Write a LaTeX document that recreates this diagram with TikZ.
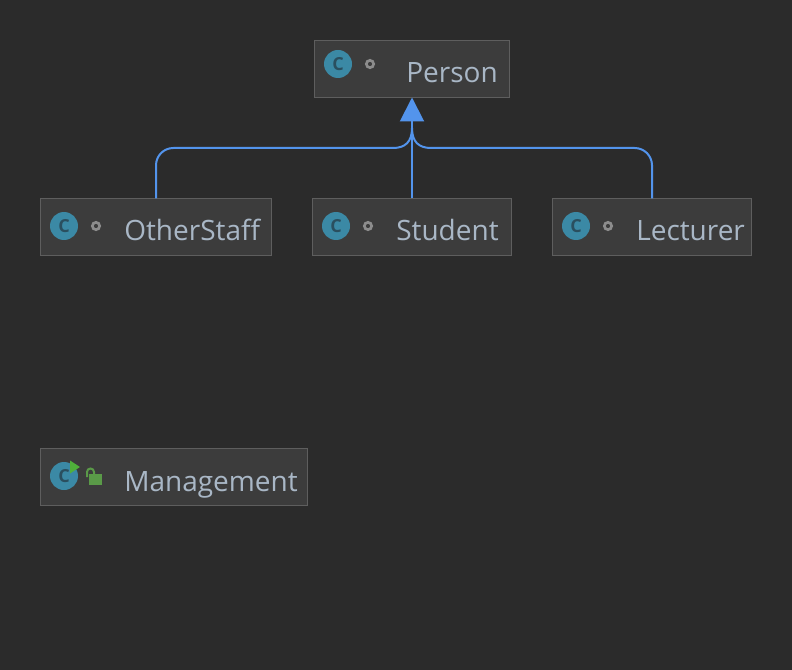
\documentclass[tikz,border=0pt]{standalone}
\usepackage{fontspec}
\setmainfont{Open Sans}
\definecolor{umlback}{HTML}{2B2B2B}
\definecolor{umlbox}{HTML}{3C3C3C}
\definecolor{umledge}{HTML}{5E5E5E}
\definecolor{umltext}{HTML}{A9B7C6}
\definecolor{umllink}{HTML}{5394EC}
\definecolor{umlicon}{HTML}{3B89A5}
\definecolor{umlletter}{HTML}{2A4F5F}
\definecolor{umldot}{HTML}{8C8C8C}
\definecolor{umlgreen}{HTML}{5A9A48}
\definecolor{umlplay}{HTML}{4FB03A}
\usetikzlibrary{arrows.meta}
\tikzset{
  classbox/.style={draw=umledge, fill=umlbox, line width=0.75pt, inner sep=0pt, outer sep=0pt, anchor=north west, minimum height=42.75pt},
  classname/.style={anchor=base west, inner sep=0pt, text=umltext, font=\fontsize{21pt}{24pt}\selectfont},
  classicon/.style={circle, fill=umlicon, inner sep=0pt, minimum size=21pt, text=umlletter, font=\fontsize{13.5pt}{14pt}\selectfont\bfseries},
  packagedot/.style={circle, draw=umldot, fill=umlbox, line width=2pt, inner sep=0pt, minimum size=5.5pt},
  inherit/.style={draw=umllink, line width=1.5pt}
}
\begin{document}
\begin{tikzpicture}[x=0.75pt, y=-0.75pt]
    \fill[umlback] (0,0) rectangle (792,670);
    % --- Person ---
    \node[classbox, minimum width=146.25pt] (person) at (314.5,40.5) {};
    \node[classicon] (personicon) at (338,64) {C};
    \node[packagedot] (persondot) at (370,64) {};
    \node[classname] (personname) at (406,83) {Person};
    % --- Subclasses ---
    \node[classbox, minimum width=173.25pt] (otherstaff) at (40.5,198.5) {};
    \node[classicon] (otherstafficon) at (64,226) {C};
    \node[packagedot] (otherstaffdot) at (96,226) {};
    \node[classname] (otherstaffname) at (124,241) {OtherStaff};
    \node[classbox, minimum width=149.25pt] (student) at (312.5,198.5) {};
    \node[classicon] (studenticon) at (336,226) {C};
    \node[packagedot] (studentdot) at (368,226) {};
    \node[classname] (studentname) at (396,241) {Student};
    \node[classbox, minimum width=149.25pt] (lecturer) at (552.5,198.5) {};
    \node[classicon] (lecturericon) at (576,226) {C};
    \node[packagedot] (lecturerdot) at (608,226) {};
    \node[classname] (lecturername) at (636,241) {Lecturer};
    % --- Management ---
    \node[classbox, minimum width=200.25pt] (management) at (40.5,448.5) {};
    \node[classicon] (managementicon) at (64,476) {C};
    \fill[umlplay] (70,460.5) -- (80,467) -- (70,473.5) -- cycle;
    \draw[umlgreen, line width=1.5pt] (87,477) -- (87,472) arc[start angle=180, end angle=360, x radius=3.5, y radius=3.5] -- (94,475);
    \fill[umlgreen] (89,473.5) rectangle (102,484.5);
    \node[classname] (managementname) at (124,491) {Management};
    % Inheritance arrows
    \coordinate (leftbus) at (393,148);
    \coordinate (rightbus) at (431,148);
    \coordinate (join) at (412,128);
    \draw[inherit, rounded corners=13pt] (otherstaff.north) |- (leftbus);
    \draw[inherit] (leftbus) .. controls (405,148) and (412,142) .. (join);
    \draw[inherit, rounded corners=13pt] (lecturer.north) |- (rightbus);
    \draw[inherit] (rightbus) .. controls (419,148) and (412,142) .. (join);
    \draw[inherit, -{Triangle[length=18pt, width=18pt]}] (student.north) -- (person.south);
\end{tikzpicture}
\end{document}
